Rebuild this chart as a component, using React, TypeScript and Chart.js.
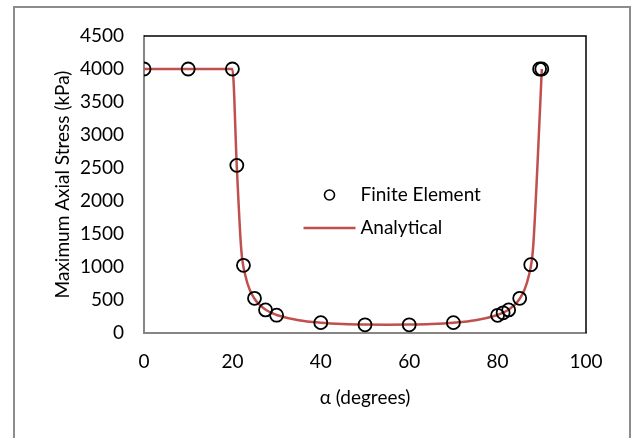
import React, { useEffect, useRef } from "react";
import { Chart, registerables } from "chart.js";

Chart.register(...registerables);

// Finite element results (alpha in degrees, stress in kPa)
const feAlpha = [0, 10, 20, 21, 22.5, 25, 27.5, 30, 40, 50, 60, 70, 80, 81.25, 82.5, 85, 87.5, 89.5, 90];
const feStress = [4000, 4000, 4000, 2540, 1025, 525, 350, 270, 157, 124, 124, 157, 268, 306, 350, 525, 1035, 4000, 4000];

// Analytical curve
const anAlpha = [0, 5, 10, 15, 20, 21, 22, 23, 24, 25, 26, 27, 28, 29, 30, 35, 40, 45, 50, 55, 60, 65, 70, 75, 80, 81, 82, 83, 84, 85, 86, 87, 88, 89, 90];
const anStress = [4000, 4000, 4000, 4000, 4000, 2516, 1267, 851, 643, 519, 436, 378, 334, 300, 273, 193, 156, 137, 128, 125, 128, 137, 156, 193, 273, 300, 334, 378, 436, 519, 643, 851, 1267, 2516, 4000];

const xMin = 0;
const xMax = 100;
const xStep = 20;
const yMin = 0;
const yMax = 4500;
const yStep = 500;

const xTitle = "α (degrees)";
const yTitle = "Maximum Axial Stress (kPa)";
const seriesNames = ["Finite Element", "Analytical"];

const FONT = "Lato, 'Open Sans', sans-serif";
const FONT_SIZE = 19;
const LINE_COLOR = "#C0504D";
const AXIS_COLOR = "#868686";

export default function App() {
  const ref = useRef<HTMLCanvasElement | null>(null);

  useEffect(() => {
    const canvas = ref.current;
    if (!canvas) return;

    const framePlugin = {
      id: "frame",
      beforeDraw(chart: any) {
        const ctx = chart.ctx;
        ctx.save();
        ctx.fillStyle = "#ffffff";
        ctx.fillRect(0, 0, chart.width, chart.height);
        ctx.strokeStyle = "#8c8c8c";
        ctx.lineWidth = 2;
        ctx.strokeRect(14, 7, 616, 500);
        ctx.restore();
      },
      afterDraw(chart: any) {
        const { ctx, chartArea } = chart;
        ctx.save();
        ctx.strokeStyle = "#000000";
        ctx.lineWidth = 1.5;
        ctx.beginPath();
        ctx.moveTo(chartArea.left, chartArea.top);
        ctx.lineTo(chartArea.right, chartArea.top);
        ctx.lineTo(chartArea.right, chartArea.bottom);
        ctx.stroke();

        const lx = chartArea.left;
        const ly = chartArea.top;
        const markerX = lx + 185.5;
        const row1 = ly + 159;
        const row2 = ly + 192;
        const textX = lx + 216.5;
        ctx.strokeStyle = "#000000";
        ctx.lineWidth = 1.6;
        ctx.beginPath();
        ctx.arc(markerX, row1, 5, 0, Math.PI * 2);
        ctx.stroke();
        ctx.strokeStyle = LINE_COLOR;
        ctx.lineWidth = 2.5;
        ctx.beginPath();
        ctx.moveTo(lx + 159.5, row2);
        ctx.lineTo(lx + 211.5, row2);
        ctx.stroke();
        ctx.fillStyle = "#000000";
        ctx.font = `${FONT_SIZE}px ${FONT}`;
        ctx.textBaseline = "middle";
        ctx.textAlign = "left";
        ctx.fillText(seriesNames[0], textX, row1);
        ctx.fillText(seriesNames[1], textX, row2);
        ctx.restore();
      },
    };

    const chart = new Chart(canvas, {
      type: "scatter",
      data: {
        datasets: [
          {
            label: seriesNames[0],
            data: feAlpha.map((a, i) => ({ x: a, y: feStress[i] })),
            showLine: false,
            pointRadius: 6.5,
            pointBorderWidth: 1.8,
            pointBorderColor: "#000000",
            pointBackgroundColor: "rgba(0,0,0,0)",
            pointStyle: "circle",
            order: 0,
          },
          {
            label: seriesNames[1],
            data: anAlpha.map((a, i) => ({ x: a, y: anStress[i] })),
            showLine: true,
            borderColor: LINE_COLOR,
            borderWidth: 2.5,
            pointRadius: 0,
            cubicInterpolationMode: "monotone",
            fill: false,
            order: 1,
          },
        ],
      },
      options: {
        animation: false,
        responsive: false,
        maintainAspectRatio: false,
        devicePixelRatio: 1,
        layout: { padding: { left: 0, top: 36, right: 46, bottom: 0 } },
        plugins: {
          legend: { display: false },
          tooltip: { enabled: false },
        },
        scales: {
          x: {
            type: "linear",
            min: xMin,
            max: xMax,
            ticks: {
              stepSize: xStep,
              color: "#000000",
              padding: 17,
              font: { family: FONT, size: FONT_SIZE },
              callback: (v: any) => String(v),
            },
            grid: { display: false, drawTicks: false },
            border: { display: true, color: AXIS_COLOR, width: 2 },
            title: {
              display: true,
              text: xTitle,
              color: "#000000",
              font: { family: FONT, size: FONT_SIZE },
              padding: { top: 0, bottom: 29 },
            },
            afterFit(scale: any) {
              scale.height = 105;
            },
          },
          y: {
            type: "linear",
            min: yMin,
            max: yMax,
            ticks: {
              stepSize: yStep,
              color: "#000000",
              padding: 20,
              font: { family: FONT, size: FONT_SIZE },
              callback: (v: any) => String(v),
            },
            grid: { display: false, drawTicks: false },
            border: { display: true, color: AXIS_COLOR, width: 2 },
            title: {
              display: true,
              text: yTitle,
              color: "#000000",
              font: { family: FONT, size: FONT_SIZE },
              padding: { top: 51, bottom: 0 },
            },
            afterFit(scale: any) {
              scale.width = 144;
            },
          },
        },
      },
      plugins: [framePlugin],
    } as any);

    return () => chart.destroy();
  }, []);

  return (
    <div style={{ position: "absolute", left: 0, top: 0, width: 632, height: 438 }}>
      <canvas ref={ref} width={632} height={438} style={{ display: "block", width: 632, height: 438 }} />
    </div>
  );
}
